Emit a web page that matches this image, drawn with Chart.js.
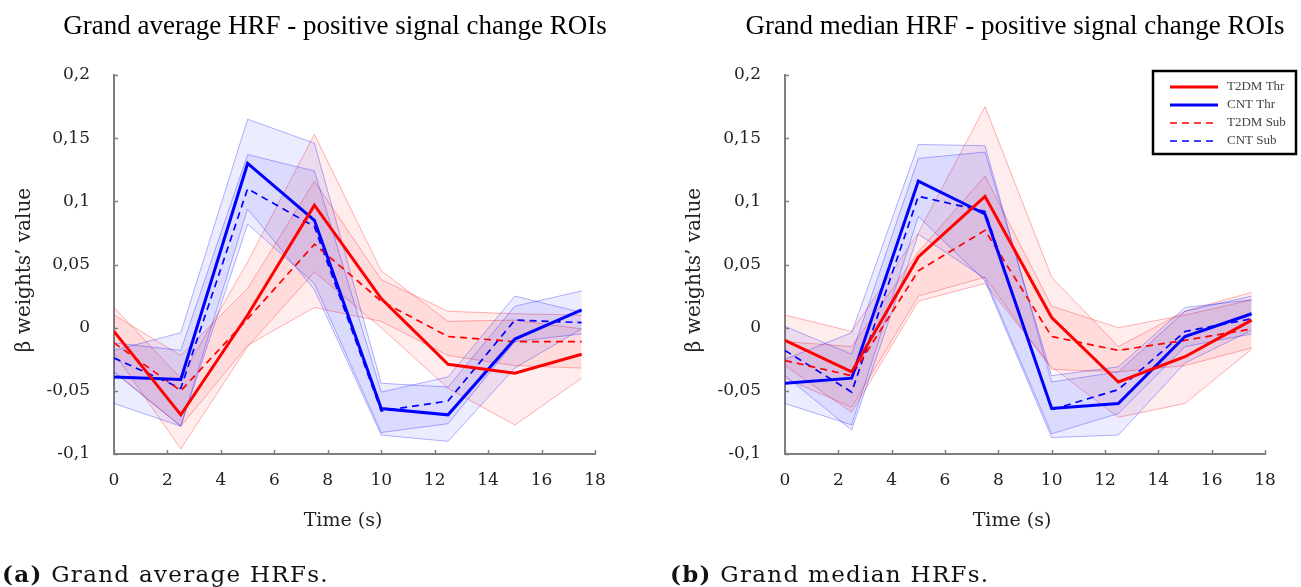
<!DOCTYPE html>
<html><head><meta charset="utf-8">
<script src="https://cdn.jsdelivr.net/npm/chart.js@4.4.0/dist/chart.umd.min.js"></script>
<style>
body{margin:0;background:#fff;width:1301px;height:587px;overflow:hidden;position:relative;font-family:'DejaVu Serif',serif}
#c1{position:absolute;left:0;top:0}
#c2{position:absolute;left:650px;top:0}
.cap{position:absolute;top:561px;font-size:23px;line-height:26px;letter-spacing:1.3px;color:#111;white-space:nowrap;font-family:'DejaVu Serif',serif}
</style></head><body>
<canvas id="c1" width="650" height="587"></canvas>
<canvas id="c2" width="651" height="587"></canvas>
<div class="cap" style="left:2px"><b>(a)</b> Grand average HRFs.</div>
<div class="cap" style="left:670px"><b>(b)</b> Grand median HRFs.</div>
<script>
// ---- shared axes ----
const timePoints = [0, 2.5, 5, 7.5, 10, 12.5, 15, 17.5];
const xTickValues = [0, 2, 4, 6, 8, 10, 12, 14, 16, 18];
const yTickValues = [-0.1, -0.05, 0, 0.05, 0.1, 0.15, 0.2];
const yTickLabels = ['-0,1', '-0,05', '0', '0,05', '0,1', '0,15', '0,2'];
const seriesNames = ['T2DM Thr', 'CNT Thr', 'T2DM Sub', 'CNT Sub'];
const titleAvg = 'Grand average HRF - positive signal change ROIs';
const titleMed = 'Grand median HRF - positive signal change ROIs';
const xAxisTitle = 'Time (s)';
const yAxisTitle = 'β weights’ value';

// ---- grand average ----
const avgT2dmThr      = [-0.003, -0.069, 0.010, 0.097, 0.023, -0.029, -0.036, -0.021];
const avgT2dmThrUpper = [0.016, -0.040, 0.052, 0.153, 0.045, 0.005, 0.006, -0.001];
const avgT2dmThrLower = [-0.020, -0.096, -0.015, 0.044, 0.000, -0.048, -0.077, -0.040];
const avgCntThr       = [-0.039, -0.041, 0.130, 0.085, -0.064, -0.069, -0.009, 0.014];
const avgCntThrUpper  = [-0.018, -0.004, 0.165, 0.146, -0.044, -0.047, 0.017, 0.029];
const avgCntThrLower  = [-0.060, -0.078, 0.094, 0.030, -0.085, -0.090, -0.032, -0.001];
const avgT2dmSub      = [-0.012, -0.050, 0.007, 0.066, 0.021, -0.007, -0.011, -0.011];
const avgT2dmSubUpper = [0.010, -0.022, 0.031, 0.116, 0.038, 0.013, 0.011, 0.010];
const avgT2dmSubLower = [-0.035, -0.078, -0.014, 0.016, 0.005, -0.022, -0.030, -0.032];
const avgCntSub       = [-0.024, -0.048, 0.110, 0.080, -0.066, -0.058, 0.006, 0.004];
const avgCntSubUpper  = [-0.012, -0.018, 0.137, 0.124, -0.051, -0.039, 0.025, 0.012];
const avgCntSubLower  = [-0.035, -0.078, 0.082, 0.035, -0.083, -0.076, -0.011, -0.005];

// ---- grand median ----
const medT2dmThr      = [-0.010, -0.035, 0.056, 0.104, 0.008, -0.043, -0.023, 0.006];
const medT2dmThrUpper = [0.010, -0.003, 0.075, 0.175, 0.040, -0.015, 0.013, 0.028];
const medT2dmThrLower = [-0.030, -0.067, 0.021, 0.035, -0.031, -0.071, -0.060, -0.017];
const medCntThr       = [-0.044, -0.040, 0.116, 0.090, -0.064, -0.060, -0.007, 0.011];
const medCntThrUpper  = [-0.025, -0.004, 0.145, 0.144, -0.043, -0.035, 0.013, 0.025];
const medCntThrLower  = [-0.060, -0.077, 0.088, 0.037, -0.087, -0.085, -0.028, -0.002];
const medT2dmSub      = [-0.026, -0.038, 0.045, 0.077, -0.007, -0.018, -0.010, -0.001];
const medT2dmSubUpper = [-0.011, -0.015, 0.060, 0.120, 0.017, 0.000, 0.010, 0.022];
const medT2dmSubLower = [-0.040, -0.063, 0.025, 0.040, -0.033, -0.035, -0.030, -0.016];
const medCntSub       = [-0.018, -0.051, 0.104, 0.092, -0.065, -0.049, -0.003, 0.007];
const medCntSubUpper  = [0.001, -0.021, 0.134, 0.139, -0.038, -0.031, 0.016, 0.022];
const medCntSubLower  = [-0.038, -0.081, 0.074, 0.039, -0.084, -0.068, -0.015, -0.005];

const RED = '#ff0000', BLUE = '#0000ff';
const RED_EDGE = 'rgba(255,0,0,0.3)', BLUE_EDGE = 'rgba(0,0,255,0.3)';
const RED_FILL = 'rgba(255,0,0,0.075)', BLUE_FILL = 'rgba(0,0,255,0.075)';
const AXIS = '#7f7f7f';
const TICK_FONT = {family: 'DejaVu Serif', size: 17};

function pts(arr) { return timePoints.map((t, i) => ({x: t, y: arr[i]})); }
function mainLine(label, arr, color, dashed) {
  return {label, data: pts(arr), borderColor: color, backgroundColor: color,
    borderWidth: dashed ? 1.7 : 3, borderDash: dashed ? [7, 5] : [], pointRadius: 0,
    fill: false, tension: 0, order: 0};
}
function band(upper, lower, edge, fillc) {
  return [
    {label: '_u', data: pts(upper), borderColor: edge, borderWidth: 1, pointRadius: 0,
     fill: '+1', backgroundColor: fillc, tension: 0, order: 1},
    {label: '_l', data: pts(lower), borderColor: edge, borderWidth: 1, pointRadius: 0,
     fill: false, tension: 0, order: 1}
  ];
}

function makeChart(id, o) {
  const decor = {
    id: 'decor',
    afterDraw(chart) {
      const ctx = chart.ctx, xs = chart.scales.x, ys = chart.scales.y, a = chart.chartArea;
      ctx.save();
      ctx.strokeStyle = AXIS; ctx.lineWidth = 1.5;
      xTickValues.forEach(v => {
        const px = Math.round(xs.getPixelForValue(v)) + 0.5;
        ctx.beginPath(); ctx.moveTo(px, a.bottom); ctx.lineTo(px, a.bottom - 4); ctx.stroke();
      });
      yTickValues.forEach(v => {
        const py = Math.round(ys.getPixelForValue(v)) + 0.5;
        ctx.beginPath(); ctx.moveTo(a.left, py); ctx.lineTo(a.left + 4, py); ctx.stroke();
      });
      ctx.fillStyle = '#000';
      ctx.font = '27px "Liberation Serif"';
      ctx.textAlign = 'center'; ctx.textBaseline = 'middle';
      ctx.fillText(o.title, o.titleX, 27);
      ctx.fillStyle = '#222';
      ctx.font = '19px "DejaVu Serif"';
      ctx.fillText(xAxisTitle, o.xLabelX, 521);
      ctx.save();
      ctx.translate(o.yLabelX, 270); ctx.rotate(-Math.PI / 2);
      ctx.font = '20px "DejaVu Serif"';
      ctx.fillText(yAxisTitle, 0, 0);
      ctx.restore();
      if (o.legend) {
        const L = o.legend;
        ctx.strokeStyle = '#000'; ctx.lineWidth = 2.5;
        ctx.strokeRect(L.x, L.y, L.w, L.h);
        const styles = [[RED, 3, []], [BLUE, 3, []], [RED, 1.5, [7, 5]], [BLUE, 1.5, [7, 5]]];
        ctx.font = '13px "Liberation Serif"'; ctx.textAlign = 'left'; ctx.fillStyle = '#444';
        seriesNames.forEach((n, i) => {
          const yy = L.y + 16 + i * 18;
          ctx.strokeStyle = styles[i][0]; ctx.lineWidth = styles[i][1]; ctx.setLineDash(styles[i][2]);
          ctx.beginPath(); ctx.moveTo(L.x + 17, yy); ctx.lineTo(L.x + 65, yy); ctx.stroke();
          ctx.setLineDash([]);
          ctx.fillText(n, L.x + 74, yy);
        });
      }
      ctx.restore();
    }
  };
  const s = o.series;
  const datasets = [
    mainLine(seriesNames[0], s.t2dmThr, RED, false),
    mainLine(seriesNames[1], s.cntThr, BLUE, false),
    mainLine(seriesNames[2], s.t2dmSub, RED, true),
    mainLine(seriesNames[3], s.cntSub, BLUE, true),
    ...band(s.cntThrU, s.cntThrL, BLUE_EDGE, BLUE_FILL),
    ...band(s.cntSubU, s.cntSubL, BLUE_EDGE, BLUE_FILL),
    ...band(s.t2dmThrU, s.t2dmThrL, RED_EDGE, RED_FILL),
    ...band(s.t2dmSubU, s.t2dmSubL, RED_EDGE, RED_FILL)
  ];
  return new Chart(document.getElementById(id), {
    type: 'line',
    data: {datasets},
    options: {
      responsive: false, animation: false, devicePixelRatio: 1,
      layout: {padding: {top: 75, left: 0, right: o.padRight, bottom: 0}},
      plugins: {legend: {display: false}, tooltip: {enabled: false}, title: {display: false}},
      scales: {
        x: {type: 'linear', min: 0, max: 18,
            afterBuildTicks: sc => { sc.ticks = xTickValues.map(v => ({value: v})); },
            afterFit: sc => { sc.height = 133; },
            grid: {display: false, drawTicks: false},
            border: {color: AXIS, width: 2},
            ticks: {font: TICK_FONT, color: '#222', padding: 16, maxRotation: 0}},
        y: {type: 'linear', min: -0.1, max: 0.2,
            afterBuildTicks: sc => { sc.ticks = yTickValues.map(v => ({value: v})); },
            afterFit: sc => { sc.width = o.left; },
            grid: {display: false, drawTicks: false},
            border: {color: AXIS, width: 2},
            ticks: {font: TICK_FONT, color: '#222', padding: 24,
                    callback: (v, i) => yTickLabels[i]}}
      }
    },
    plugins: [decor]
  });
}

makeChart('c1', {
  title: titleAvg, titleX: 335, xLabelX: 343, yLabelX: 25, left: 114, padRight: 55,
  series: {t2dmThr: avgT2dmThr, t2dmThrU: avgT2dmThrUpper, t2dmThrL: avgT2dmThrLower,
           cntThr: avgCntThr, cntThrU: avgCntThrUpper, cntThrL: avgCntThrLower,
           t2dmSub: avgT2dmSub, t2dmSubU: avgT2dmSubUpper, t2dmSubL: avgT2dmSubLower,
           cntSub: avgCntSub, cntSubU: avgCntSubUpper, cntSubL: avgCntSubLower}
});
makeChart('c2', {
  title: titleMed, titleX: 365, xLabelX: 362, yLabelX: 45, left: 135, padRight: 36,
  legend: {x: 503, y: 71, w: 143, h: 83},
  series: {t2dmThr: medT2dmThr, t2dmThrU: medT2dmThrUpper, t2dmThrL: medT2dmThrLower,
           cntThr: medCntThr, cntThrU: medCntThrUpper, cntThrL: medCntThrLower,
           t2dmSub: medT2dmSub, t2dmSubU: medT2dmSubUpper, t2dmSubL: medT2dmSubLower,
           cntSub: medCntSub, cntSubU: medCntSubUpper, cntSubL: medCntSubLower}
});
</script>
</body></html>
